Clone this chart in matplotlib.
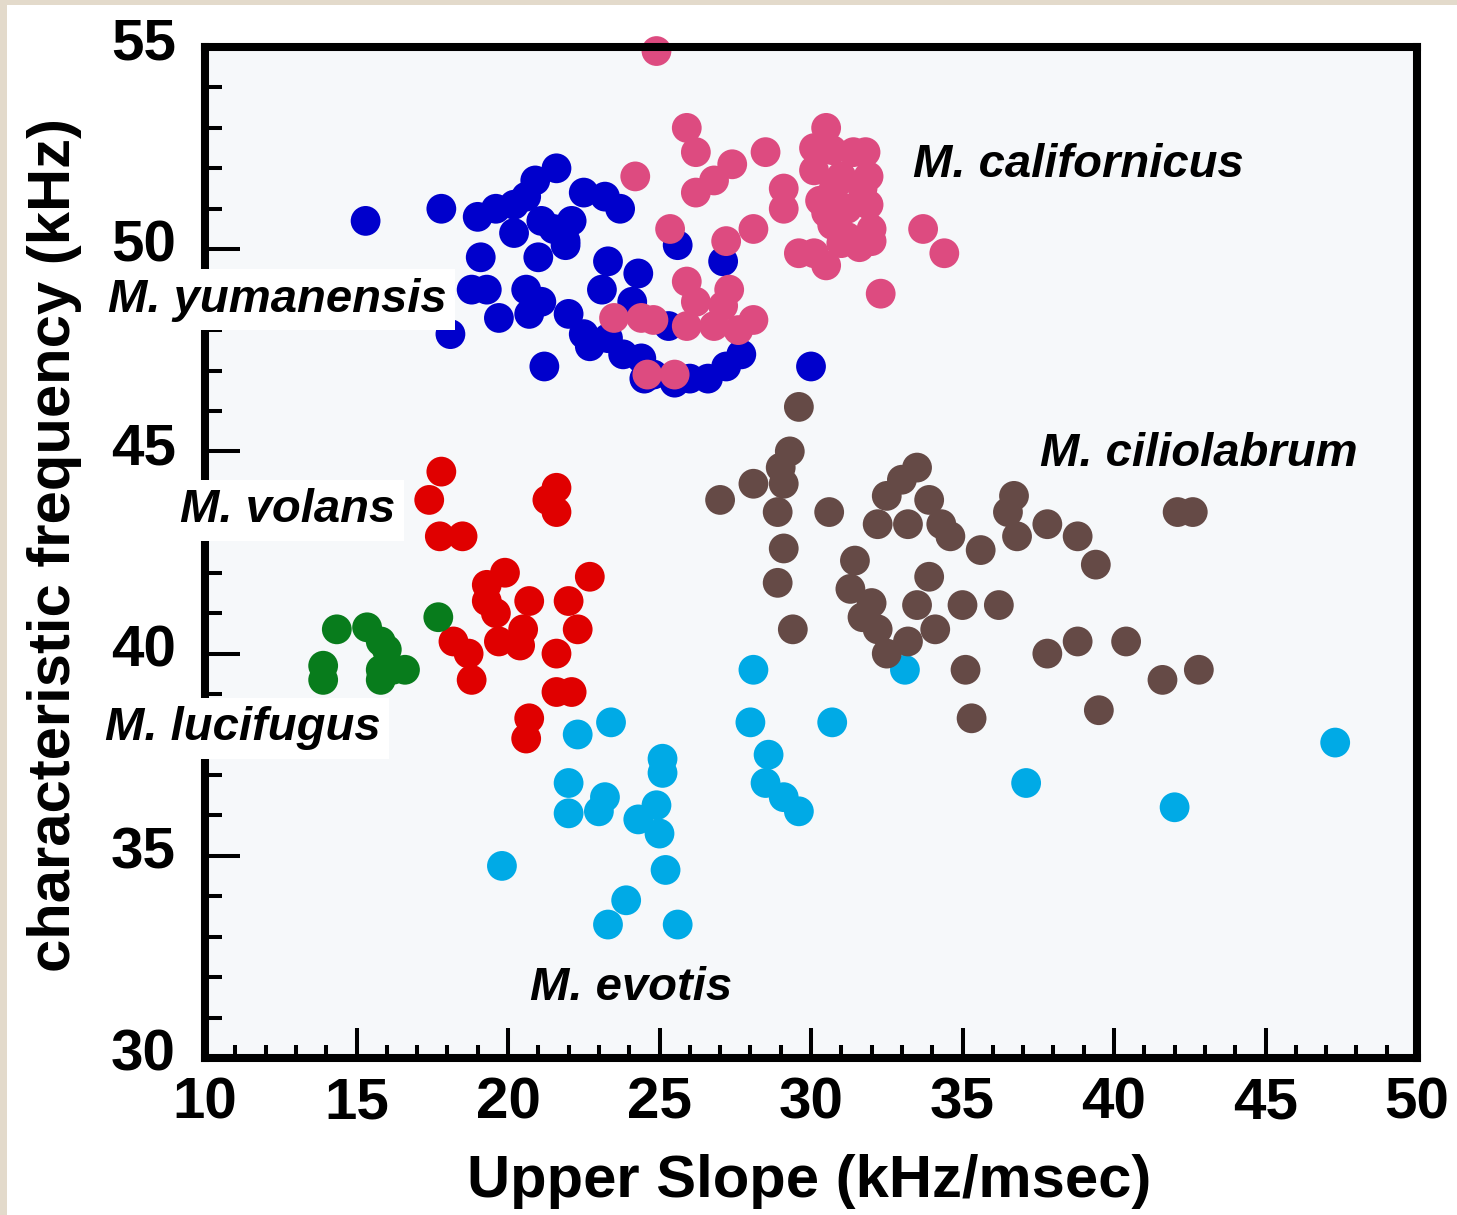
import matplotlib
matplotlib.use("Agg")
import matplotlib.pyplot as plt
from matplotlib.patches import Rectangle
from matplotlib.ticker import MultipleLocator
from matplotlib.transforms import ScaledTranslation

# ---- data: upper slope (kHz/msec) vs characteristic frequency (kHz) ----
yumanensis_x = [15.3, 17.8, 21.6, 20.9, 19.0, 19.6, 20.2, 20.2, 21.1, 21.5, 22.1, 22.5,
                23.2, 23.7, 21.9, 20.6, 19.1, 18.8, 19.3, 19.7, 18.1, 21.2, 20.6, 21.1,
                20.7, 21.0, 21.9, 23.3, 24.3, 23.1, 22.0, 22.5, 22.7, 23.3, 23.8, 24.4,
                24.8, 24.5, 25.5, 25.6, 27.1, 27.7, 27.2, 26.6, 26.0, 30.0, 25.3, 24.1]
yumanensis_y = [50.7, 51.0, 52.0, 51.7, 50.8, 51.0, 51.1, 50.4, 50.7, 50.5, 50.7, 51.4,
                51.3, 51.0, 50.1, 51.3, 49.8, 49.0, 49.0, 48.3, 47.9, 47.1, 49.0, 48.7,
                48.4, 49.8, 50.2, 49.7, 49.4, 49.0, 48.4, 47.9, 47.6, 47.8, 47.4, 47.3,
                46.9, 46.8, 46.7, 50.1, 49.7, 47.4, 47.1, 46.8, 46.8, 47.1, 48.1, 48.7]

californicus_x = [25.9, 26.2, 27.4, 26.8, 26.2, 28.5, 24.2, 29.1, 29.1, 30.5, 30.1, 30.7,
                  31.8, 31.9, 31.0, 30.3, 31.2, 31.9, 30.7, 31.2, 32.0, 31.6, 29.6, 30.5,
                  30.1, 33.7, 34.4, 32.3, 25.35, 27.2, 28.1, 25.9, 27.3, 26.2, 27.1, 28.1,
                  25.9, 26.8, 27.6, 23.5, 24.4, 24.8, 24.6, 25.5, 24.9, 31.4, 30.75, 31.7,
                  30.5, 32.0, 31.0, 30.1]
californicus_y = [53.0, 52.4, 52.1, 51.7, 51.4, 52.4, 51.8, 51.5, 51.0, 53.0, 52.5, 52.45,
                  52.4, 51.8, 51.8, 51.2, 51.0, 51.1, 50.6, 50.3, 50.2, 50.05, 49.9, 49.6,
                  49.9, 50.5, 49.9, 48.9, 50.5, 50.2, 50.5, 49.2, 49.0, 48.7, 48.6, 48.25,
                  48.1, 48.1, 48.0, 48.3, 48.3, 48.25, 46.9, 46.9, 54.9, 52.4, 51.5, 51.5,
                  50.9, 50.5, 50.15, 51.95]

volans_x = [17.8, 17.4, 17.75, 18.5, 21.6, 21.3, 21.6, 19.9, 19.3, 19.3, 19.6, 20.7, 22.7,
            22.0, 22.3, 21.6, 18.2, 18.7, 18.8, 19.7, 20.5, 20.4, 21.6, 22.1, 20.7, 20.6]
volans_y = [44.5, 43.8, 42.9, 42.9, 44.1, 43.8, 43.5, 42.0, 41.7, 41.3, 41.0, 41.3, 41.9,
            41.3, 40.6, 40.0, 40.3, 40.0, 39.35, 40.3, 40.6, 40.2, 39.05, 39.05, 38.4, 37.9]

lucifugus_x = [17.7, 14.35, 15.35, 15.8, 16.0, 13.9, 13.9, 15.8, 15.8, 16.6, 16.2]
lucifugus_y = [40.9, 40.6, 40.65, 40.3, 40.1, 39.7, 39.35, 39.6, 39.35, 39.6, 39.6]

evotis_x = [28.1, 28.0, 30.7, 28.6, 28.5, 29.1, 29.6, 23.4, 22.3, 25.1, 25.1, 22.0, 22.0,
            23.2, 23.0, 24.9, 24.3, 25.0, 25.2, 23.9, 23.3, 25.6, 19.8, 33.1, 37.1, 42.0, 47.3]
evotis_y = [39.6, 38.3, 38.3, 37.5, 36.8, 36.45, 36.1, 38.3, 38.0, 37.4, 37.05, 36.8, 36.05,
            36.45, 36.1, 36.25, 35.9, 35.55, 34.65, 33.9, 33.3, 33.3, 34.75, 39.6, 36.8, 36.2, 37.8]

ciliolabrum_x = [29.6, 29.3, 29.0, 28.1, 29.1, 27.0, 28.9, 30.6, 29.1, 28.9, 29.4,
                 33.5, 33.0, 32.5, 32.2, 33.2, 33.9, 34.3, 34.6, 35.6,
                 36.7, 36.5, 36.8, 37.8, 38.8, 39.4, 42.1, 42.6,
                 31.45, 31.3, 33.9, 32.0, 31.7, 32.2, 32.5, 33.2, 33.5, 34.1, 35.0, 36.2,
                 35.1, 35.3, 37.8, 38.8, 40.4, 41.6, 42.8, 39.5]
ciliolabrum_y = [46.1, 45.0, 44.6, 44.2, 44.2, 43.8, 43.5, 43.5, 42.6, 41.75, 40.6,
                 44.6, 44.3, 43.9, 43.2, 43.2, 43.8, 43.2, 42.9, 42.56,
                 43.9, 43.5, 42.9, 43.2, 42.9, 42.2, 43.5, 43.5,
                 42.3, 41.6, 41.9, 41.25, 40.9, 40.6, 40.0, 40.3, 41.2, 40.6, 41.2, 41.2,
                 39.6, 38.4, 40.0, 40.3, 40.3, 39.35, 39.6, 38.6]

x_ticks = [10, 15, 20, 25, 30, 35, 40, 45, 50]
y_ticks = [30, 35, 40, 45, 50, 55]

species = [
    ("yumanensis", yumanensis_x, yumanensis_y, "#0000cc"),
    ("californicus", californicus_x, californicus_y, "#dd4b80"),
    ("volans", volans_x, volans_y, "#e00000"),
    ("lucifugus", lucifugus_x, lucifugus_y, "#087c1c"),
    ("evotis", evotis_x, evotis_y, "#00aae6"),
    ("ciliolabrum", ciliolabrum_x, ciliolabrum_y, "#654a46"),
]

# species name, text x, text baseline y, boxed
labels = [
    ("M. californicus", 33.37, 51.78, False),
    ("M. ciliolabrum", 37.56, 44.64, False),
    ("M. yumanensis", 6.80, 48.45, True),
    ("M. volans", 9.17, 43.25, True),
    ("M. lucifugus", 6.70, 37.86, True),
    ("M. evotis", 20.73, 31.43, False),
]

W, H = 1457, 1215
fig = plt.figure(figsize=(W / 100, H / 100), dpi=100, facecolor="white")

# beige strip along the top and left edges
fig.patches.append(Rectangle((0, 0), 7 / W, 1, transform=fig.transFigure,
                             facecolor="#e3dacb", edgecolor="none"))
fig.patches.append(Rectangle((0, 1 - 5 / H), 1, 5 / H, transform=fig.transFigure,
                             facecolor="#e3dacb", edgecolor="none"))

ax = fig.add_axes([205 / W, 1 - 1058 / H, (1417 - 205) / W, (1058 - 47) / H])
ax.set_facecolor("#f6f8fa")
ax.set_xlim(10, 50)
ax.set_ylim(30, 55)

for name, xs, ys, col in species:
    ax.scatter(xs, ys, s=460, color=col, edgecolors="none", zorder=2, clip_on=False)

for sp in ax.spines.values():
    sp.set_linewidth(5.8)
    sp.set_color("black")

ax.set_xticks(x_ticks)
ax.set_yticks(y_ticks)
ax.xaxis.set_minor_locator(MultipleLocator(1))
ax.yaxis.set_minor_locator(MultipleLocator(1))
ax.tick_params(axis="both", which="both", direction="in", top=False, right=False,
               color="black")
ax.tick_params(axis="x", which="major", length=21.5, width=2.9, pad=13)
ax.tick_params(axis="x", which="minor", length=9.5, width=2.9)
ax.tick_params(axis="y", which="major", length=25, width=2.9, pad=21)
ax.tick_params(axis="y", which="minor", length=12, width=2.9)

tick_font = dict(family="Liberation Sans", weight="bold", size=42)
ax.set_xticklabels([str(v) for v in x_ticks], fontdict=tick_font)
ax.set_yticklabels([str(v) for v in y_ticks], fontdict=tick_font)
shift_up = ScaledTranslation(0, 6 / 72, fig.dpi_scale_trans)
for lbl in ax.get_yticklabels():
    lbl.set_transform(lbl.get_transform() + shift_up)

fig.text(809 / W, 1 - 1197 / H, "Upper Slope (kHz/msec)", ha="center", va="baseline",
         family="Liberation Sans", weight="bold", size=43)
fig.text(70 / W, 1 - 545 / H, "characteristic frequency (kHz)", rotation=90,
         rotation_mode="anchor", ha="center", va="baseline",
         family="Liberation Sans", weight="bold", size=43)

for text, tx, ty, boxed in labels:
    kw = dict(family="Liberation Sans", weight="bold", style="italic", size=34,
              ha="left", va="baseline", zorder=6, clip_on=False)
    if boxed:
        kw["bbox"] = dict(facecolor="white", edgecolor="none", pad=6)
    ax.text(tx, ty, text, **kw)

fig.savefig("out.png", dpi=100, facecolor=fig.get_facecolor())
